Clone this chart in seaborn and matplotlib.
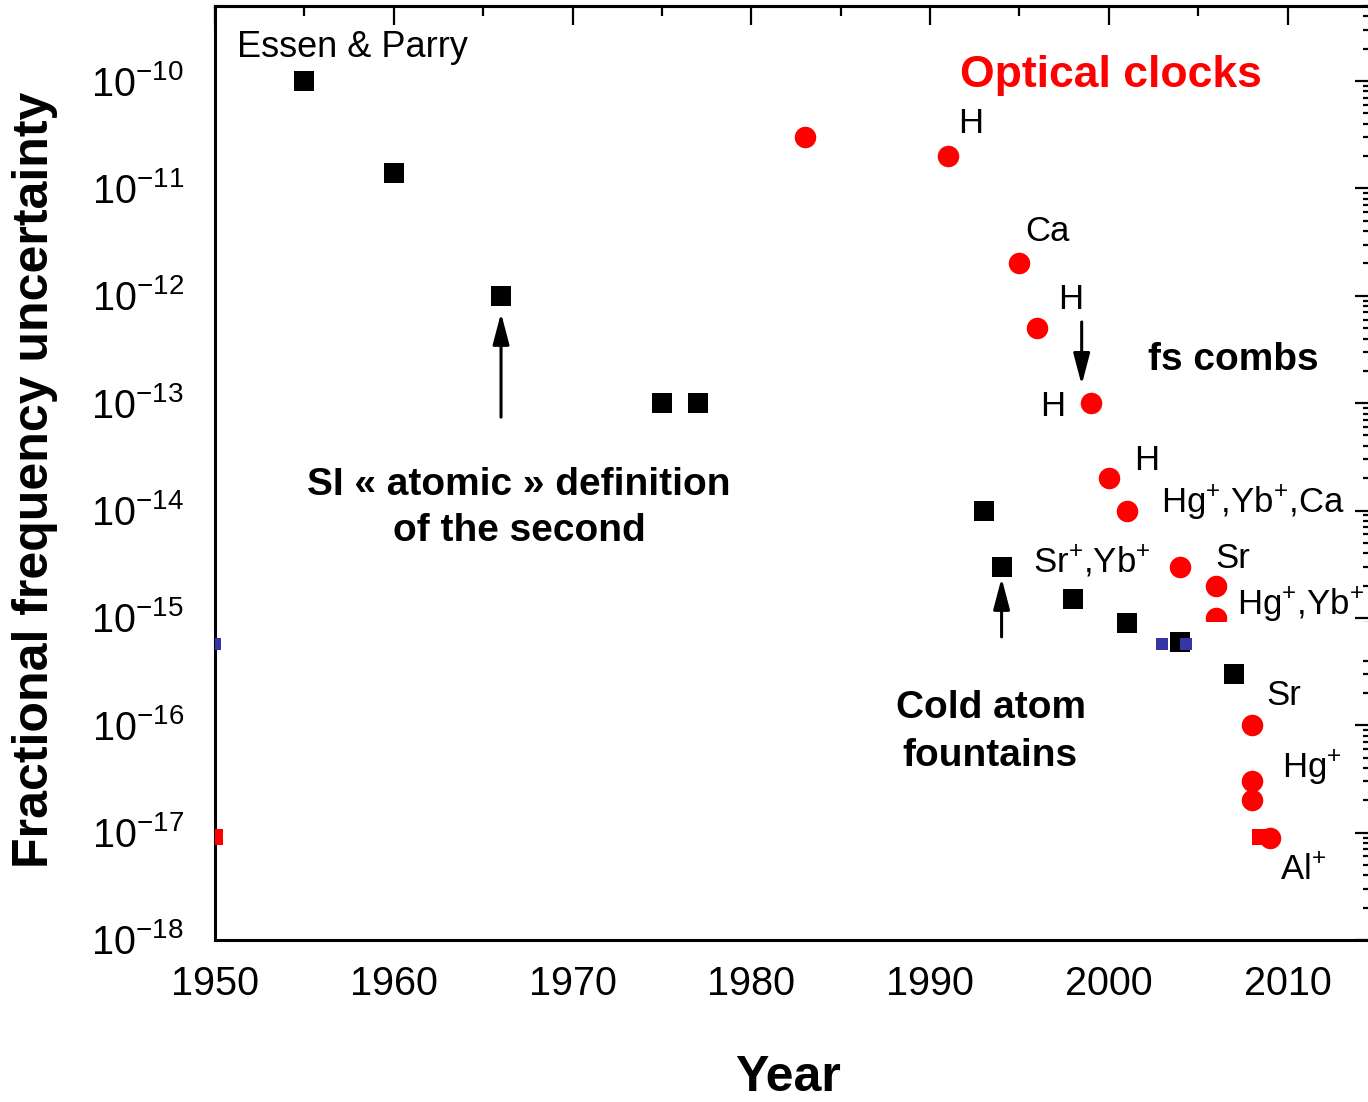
import numpy as np
import pandas as pd
import matplotlib
matplotlib.use("Agg")
import matplotlib.pyplot as plt
import matplotlib.transforms as mtransforms
from matplotlib.patches import Rectangle
from matplotlib.ticker import LogLocator, MultipleLocator, NullFormatter
import seaborn as sns

# ---------------- data ----------------
microwave_years = [1955, 1960, 1966, 1975, 1977, 1993, 1994, 1998, 2001, 2004, 2007]
microwave_unc = [1e-10, 1.4e-11, 1e-12, 1e-13, 1e-13, 1e-14, 3e-15, 1.5e-15, 9e-16, 6e-16, 3e-16]

optical_years = [1983, 1991, 1995, 1996, 1999, 2000, 2001, 2004, 2006, 2006, 2008, 2008, 2008, 2009]
optical_unc = [3e-11, 2e-11, 2e-12, 5e-13, 1e-13, 2e-14, 1e-14, 3e-15, 2e-15, 1e-15, 1e-16, 3e-17, 2e-17, 9e-18]

blue_mark_years = [1950, 2003.0, 2004.3]
blue_mark_unc = [5.7e-16, 5.7e-16, 5.7e-16]
red_mark_years = [1950, 2008.45]
red_mark_unc = [9.1e-18, 9.1e-18]

x_ticks = [1950, 1960, 1970, 1980, 1990, 2000, 2010]
x_tick_labels = ["1950", "1960", "1970", "1980", "1990", "2000", "2010"]
y_exponents = [-10, -11, -12, -13, -14, -15, -16, -17, -18]
y_ticks = [10.0 ** e for e in y_exponents]
y_tick_labels = [r"$10^{%d}$" % e for e in y_exponents]

# ---------------- style ----------------
sns.set_theme(style="white")
plt.rcParams["font.family"] = ["Liberation Sans", "DejaVu Sans"]
plt.rcParams.update({
    "mathtext.fontset": "custom",
    "mathtext.default": "regular",
    "mathtext.rm": "Liberation Sans",
    "mathtext.it": "Liberation Sans:italic",
    "mathtext.bf": "Liberation Sans:bold",
    "mathtext.sf": "Liberation Sans",
    "axes.edgecolor": "black",
    "axes.labelcolor": "black",
    "axes.linewidth": 2.2,
    "xtick.color": "black",
    "ytick.color": "black",
    "text.color": "black",
})

W, H = 1368, 1102
fig = plt.figure(figsize=(W / 100, H / 100), dpi=100)
fig.patch.set_facecolor("white")
ax = fig.add_axes([215 / W, 1 - 940 / H, (1377 - 215) / W, (940 - 6) / H])
ax.set_facecolor("white")

df_mw = pd.DataFrame({"year": microwave_years, "unc": microwave_unc})
df_op = pd.DataFrame({"year": optical_years, "unc": optical_unc})
df_blue = pd.DataFrame({"year": blue_mark_years, "unc": blue_mark_unc})
df_red = pd.DataFrame({"year": red_mark_years, "unc": red_mark_unc})

ax.set_yscale("log")
sns.scatterplot(data=df_mw, x="year", y="unc", marker="s", s=207, color="black",
                linewidth=0, ax=ax, zorder=4)
sns.scatterplot(data=df_blue, x="year", y="unc", marker="s", s=75, color="#3535a5",
                linewidth=0, ax=ax, zorder=5)
sns.scatterplot(data=df_red, x="year", y="unc", marker="s", s=140, color="#ff0000",
                linewidth=0, ax=ax, zorder=4)
sns.scatterplot(data=df_op, x="year", y="unc", marker="o", s=240, color="#ff0000",
                linewidth=0, ax=ax, zorder=5)

ax.set_xlim(1950, 2015)
ax.set_ylim(1e-18, 5e-10)

# main (bottom / left) ticks, outward
ax.set_xticks(x_ticks, labels=x_tick_labels)
ax.xaxis.set_minor_locator(MultipleLocator(5))
ax.set_yticks(y_ticks, labels=y_tick_labels)
ax.yaxis.set_minor_locator(LogLocator(base=10, subs=np.arange(2, 10), numticks=100))
ax.yaxis.set_minor_formatter(NullFormatter())
ax.tick_params(axis="both", which="both", direction="out", top=False, right=False,
               colors="black")
ax.tick_params(axis="x", which="major", length=13, width=1.6, labelsize=28.5, pad=5)
ax.tick_params(axis="x", which="minor", length=7, width=1.6)
ax.tick_params(axis="y", which="major", length=13.5, width=1.6, labelsize=28.5, pad=9)
ax.tick_params(axis="y", which="minor", length=8, width=1.4)

offset = mtransforms.ScaledTranslation(0, -0.145, fig.dpi_scale_trans)
for lab in ax.get_yticklabels():
    lab.set_va("baseline")
    lab.set_transform(lab.get_transform() + offset)

# top / right ticks, inward
secx = ax.secondary_xaxis("top")
secx.set_xticks(x_ticks)
secx.xaxis.set_minor_locator(MultipleLocator(5))
secx.tick_params(axis="x", which="major", direction="in", length=14, width=1.6, labeltop=False)
secx.tick_params(axis="x", which="minor", direction="in", length=7.5, width=1.6)
secx.spines["top"].set_linewidth(2.2)

secy = ax.secondary_yaxis("right")
secy.set_yticks(y_ticks)
secy.yaxis.set_minor_locator(LogLocator(base=10, subs=np.arange(2, 10), numticks=100))
secy.yaxis.set_minor_formatter(NullFormatter())
secy.tick_params(axis="y", which="major", direction="in", length=16, width=1.6, labelright=False)
secy.tick_params(axis="y", which="minor", direction="in", length=10, width=1.6)

# axis labels
ax.set_xlabel("Year", fontsize=36, fontweight="bold", color="black")
ax.xaxis.set_label_coords(0.4931, -0.1478)
ax.xaxis.label.set_va("center")
ax.set_ylabel("Fractional frequency uncertainty", fontsize=36, fontweight="bold", color="black")
ax.yaxis.set_label_coords(-0.1549, 0.4925)
ax.yaxis.label.set_va("center")
ax.yaxis.label.set_ha("center")

# annotations
def L(v):
    return 10.0 ** v

lab_fs = 25
ax.text(1951.25, L(-9.777), "Essen & Parry", fontsize=26, ha="left", va="baseline")
ax.text(2000.1, L(-10.056), "Optical clocks", fontsize=32, fontweight="bold",
        color="#ff0000", ha="center", va="baseline")
ax.text(1992.27, L(-10.484), "H", fontsize=lab_fs, ha="center", va="baseline")
ax.text(1996.58, L(-11.49), "Ca", fontsize=lab_fs, ha="center", va="baseline")
ax.text(1997.87, L(-12.123), "H", fontsize=lab_fs, ha="center", va="baseline")
ax.text(2006.98, L(-12.69), "fs combs", fontsize=28, fontweight="bold",
        ha="center", va="baseline")
ax.text(1996.86, L(-13.119), "H", fontsize=lab_fs, ha="center", va="baseline")
ax.text(2002.12, L(-13.622), "H", fontsize=lab_fs, ha="center", va="baseline")
ax.text(2002.9, L(-14.022), r"Hg$^{+}$,Yb$^{+}$,Ca",
        fontsize=lab_fs, ha="left", va="baseline")
ax.text(1995.74, L(-14.581), r"Sr$^{+}$,Yb$^{+}$",
        fontsize=lab_fs, ha="left", va="baseline")
ax.text(2005.97, L(-14.534), "Sr", fontsize=lab_fs, ha="left", va="baseline")
ax.text(2007.15, L(-14.972), r"Hg$^{+}$,Yb$^{+}$",
        fontsize=lab_fs, ha="left", va="baseline")
ax.text(2008.83, L(-15.81), "Sr", fontsize=lab_fs, ha="left", va="baseline")
ax.text(2009.67, L(-16.49), r"Hg$^{+}$", fontsize=lab_fs, ha="left", va="baseline")
ax.text(2009.55, L(-17.44), r"Al$^{+}$", fontsize=lab_fs, ha="left", va="baseline")

ax.text(1966.97, L(-13.855), "SI « atomic » definition", fontsize=28,
        fontweight="bold", ha="center", va="baseline")
ax.text(1967.0, L(-14.283), "of the second", fontsize=28,
        fontweight="bold", ha="center", va="baseline")
ax.text(1993.39, L(-15.93), "Cold atom", fontsize=28,
        fontweight="bold", ha="center", va="baseline")
ax.text(1993.37, L(-16.378), "fountains", fontsize=28,
        fontweight="bold", ha="center", va="baseline")

arrow_kw = dict(arrowstyle="-|>,head_length=0.95,head_width=0.25", color="black",
                lw=2.2, mutation_scale=20, shrinkA=0, shrinkB=0)
ax.annotate("", xy=(1966, L(-12.16)), xytext=(1966, L(-13.13)), arrowprops=arrow_kw)
ax.annotate("", xy=(1998.48, L(-12.83)), xytext=(1998.48, L(-12.244)), arrowprops=arrow_kw)
ax.annotate("", xy=(1994, L(-14.628)), xytext=(1994, L(-15.177)), arrowprops=arrow_kw)

# white patch (as in the original composite image)
ax.add_patch(Rectangle((2005.23, L(-15.317)), 12, L(-15.037) - L(-15.317),
                       facecolor="white", edgecolor="none", zorder=10, clip_on=False))

fig.savefig("out.png", dpi=100, facecolor="white")
